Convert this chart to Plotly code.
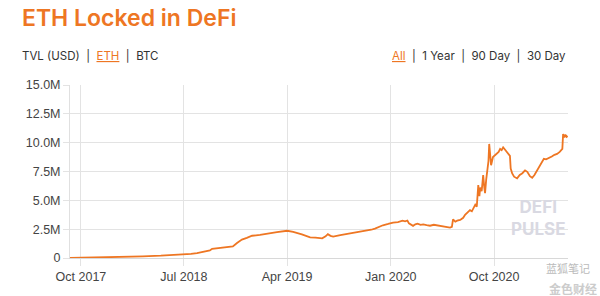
import plotly.graph_objects as go

dates = [
    "2017-09-02", "2017-10-20", "2017-12-17", "2018-02-10", "2018-03-14", "2018-05-01", "2018-06-26",
    "2018-07-20", "2018-08-05", "2018-08-25", "2018-09-08", "2018-09-14", "2018-10-10", "2018-11-08",
    "2018-11-19", "2018-12-02", "2018-12-15", "2018-12-29", "2019-01-19", "2019-02-07", "2019-03-05",
    "2019-04-01", "2019-04-17", "2019-05-10", "2019-06-01", "2019-06-15", "2019-07-03", "2019-07-12",
    "2019-07-18", "2019-07-25", "2019-08-01", "2019-08-20", "2019-09-01", "2019-09-15", "2019-10-01",
    "2019-10-10", "2019-10-30", "2019-11-10", "2019-11-20", "2019-12-11", "2019-12-25", "2020-01-07",
    "2020-01-20", "2020-02-01", "2020-02-08", "2020-02-14", "2020-02-18", "2020-02-29", "2020-03-06",
    "2020-03-12", "2020-03-20", "2020-03-27", "2020-04-05", "2020-04-14", "2020-04-24", "2020-05-03",
    "2020-05-10", "2020-05-19", "2020-05-28", "2020-06-06", "2020-06-11", "2020-06-14", "2020-06-20",
    "2020-06-25", "2020-07-03", "2020-07-11", "2020-07-16", "2020-07-22", "2020-07-29", "2020-08-03",
    "2020-08-08", "2020-08-12", "2020-08-16", "2020-08-20", "2020-08-23", "2020-08-25", "2020-08-29",
    "2020-09-02", "2020-09-05", "2020-09-07", "2020-09-10", "2020-09-13", "2020-09-16", "2020-09-18",
    "2020-09-21", "2020-09-23", "2020-09-28", "2020-10-03", "2020-10-08", "2020-10-13", "2020-10-17",
    "2020-10-21", "2020-10-25", "2020-10-30", "2020-11-04", "2020-11-08", "2020-11-12", "2020-11-14",
    "2020-11-18", "2020-11-23", "2020-12-01", "2020-12-08", "2020-12-15", "2020-12-22", "2020-12-28",
    "2021-01-04", "2021-01-10", "2021-01-16", "2021-01-22", "2021-01-28", "2021-02-04", "2021-02-10",
    "2021-02-16", "2021-02-24", "2021-03-03", "2021-03-10", "2021-03-17", "2021-03-24", "2021-03-31",
    "2021-04-02", "2021-04-05", "2021-04-08", "2021-04-11", "2021-04-14",
]
eth_locked = [
    0.00, 0.02, 0.06, 0.10, 0.14, 0.20, 0.28,
    0.36, 0.43, 0.55, 0.65, 0.80, 0.88, 1.00,
    1.30, 1.60, 1.75, 1.93, 2.00, 2.13, 2.25,
    2.36, 2.27, 2.05, 1.79, 1.76, 1.70, 1.88,
    2.07, 1.92, 1.85, 1.98, 2.05, 2.13, 2.18,
    2.22, 2.36, 2.45, 2.55, 2.84, 2.95, 3.07,
    3.12, 3.24, 3.18, 3.25, 3.00, 2.79, 2.92,
    2.98, 2.88, 2.92, 2.85, 2.80, 2.88, 2.84,
    2.76, 2.72, 2.68, 2.64, 2.70, 3.35, 3.15,
    3.24, 3.30, 3.49, 3.75, 3.95, 4.15, 4.05,
    4.35, 4.63, 4.45, 6.33, 5.37, 6.10, 5.80,
    7.18, 6.10, 5.63, 6.80, 7.50, 8.40, 9.89,
    8.30, 8.04, 8.75, 8.90, 9.10, 9.20, 9.46,
    9.35, 9.60, 9.40, 9.25, 9.03, 8.85, 7.76,
    7.33, 7.05, 6.90, 7.20, 7.35, 7.60, 7.47,
    7.10, 6.95, 7.20, 7.55, 7.80, 8.20, 8.60,
    8.55, 8.65, 8.80, 8.95, 9.03, 9.20, 9.46,
    10.74, 10.45, 10.70, 10.50, 10.57,
]
y_ticks = [0, 2.5, 5.0, 7.5, 10.0, 12.5, 15.0]
y_tick_labels = ["0", "2.5M", "5.0M", "7.5M", "10.0M", "12.5M", "15.0M"]
x_ticks = ["2017-10-01", "2018-07-01", "2019-04-01", "2020-01-01", "2020-10-01"]
x_tick_labels = ["Oct 2017", "Jul 2018", "Apr 2019", "Jan 2020", "Oct 2020"]

ORANGE = "#EE7623"
GRID = "#E3E3E3"

fig = go.Figure()
fig.add_trace(go.Scatter(
    x=dates, y=eth_locked, mode="lines",
    line=dict(color=ORANGE, width=1.8),
    hoverinfo="skip", showlegend=False,
))

fig.update_layout(
    width=600, height=296,
    margin=dict(l=70, r=32, t=85, b=35),
    paper_bgcolor="white", plot_bgcolor="white",
    font=dict(family="Liberation Sans, Arial, sans-serif", size=12, color="#444"),
    xaxis=dict(
        range=["2017-09-02", "2021-04-15"],
        tickvals=x_ticks, ticktext=x_tick_labels,
        showgrid=True, gridcolor=GRID, gridwidth=1,
        ticks="outside", ticklen=7, tickcolor=GRID,
        showline=True, linecolor="#D8D8D8", linewidth=1,
        zeroline=False, tickfont=dict(size=12.5, color="#444"),
    ),
    yaxis=dict(
        range=[0, 15], tickvals=y_ticks, ticktext=y_tick_labels,
        showgrid=True, gridcolor=GRID, gridwidth=1,
        ticks="outside", ticklen=6, tickcolor=GRID,
        showline=True, linecolor="#E0E0E0", linewidth=1,
        zeroline=False, tickfont=dict(size=12.5, color="#444"),
    ),
)

fig.add_annotation(
    text="ETH Locked in DeFi", xref="paper", yref="paper",
    x=-0.1, y=1.0, xanchor="left", yanchor="bottom", yshift=51,
    showarrow=False,
    font=dict(family="Inter, sans-serif", size=23, color=ORANGE, weight=600),
)
fig.add_annotation(
    text="TVL (USD)  |  <span style='color:#EE7623'><u>ETH</u></span>  |  BTC",
    xref="paper", yref="paper", x=-0.1, y=1.0, xanchor="left", yanchor="bottom", yshift=20,
    showarrow=False, font=dict(family="Inter, sans-serif", size=11.5, color="#333"),
)
fig.add_annotation(
    text="<span style='color:#EE7623'><u>All</u></span>  |  1 Year  |  90 Day  |  30 Day",
    xref="paper", yref="paper", x=1.0, y=1.0, xanchor="right", yanchor="bottom", yshift=20,
    showarrow=False, font=dict(family="Inter, sans-serif", size=11.5, color="#333"),
)
fig.add_annotation(
    text="DEFI<br>PULSE", xref="paper", yref="paper", x=0.94, y=0.1,
    xanchor="center", yanchor="bottom", showarrow=False, align="center",
    font=dict(family="Inter, sans-serif", size=17, color="#D9D9E2", weight=700),
)
fig.add_annotation(
    text="蓝狐笔记", xref="paper", yref="paper", x=1.0, y=-0.055,
    xanchor="center", yanchor="middle", showarrow=False,
    font=dict(family="Noto Sans CJK SC", size=11, color="#BBBBBB"),
)
fig.add_annotation(
    text="金色财经", xref="paper", yref="paper", x=1.01, y=-0.175,
    xanchor="center", yanchor="middle", showarrow=False,
    font=dict(family="Noto Sans CJK SC", size=12, color="#CCCCCC", weight=700),
)

fig.write_html("out.html")
